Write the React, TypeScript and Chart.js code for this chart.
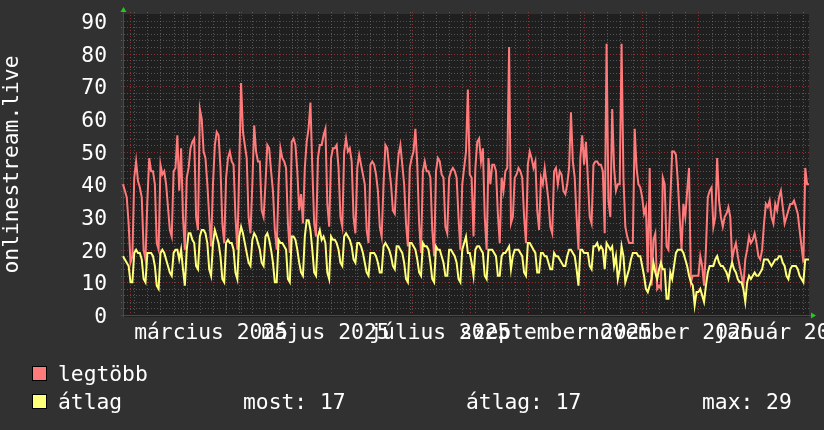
import React, { useEffect, useRef } from 'react';
import { Chart, registerables } from 'chart.js';

Chart.register(...registerables);

// ---- data -------------------------------------------------------------
const START_DATE = '2025-01-28';

// daily "legtöbb" (max) values, one per day from START_DATE
const MAX_VALUES = [
  40, 38, 36, 28, 16, 18,
  42, 47, 41, 39, 36, 20, 17,
  35, 48, 44, 44, 40, 22, 20,
  46, 43, 44, 40, 33, 26, 24,
  44, 45, 55, 38, 51, 30, 20,
  42, 45, 51, 53, 54, 30, 26,
  63, 60, 50, 48, 40, 30, 21,
  40, 52, 56, 55, 45, 28, 22,
  42, 48, 50, 47, 46, 30, 20,
  45, 71, 56, 52, 48, 30, 25,
  40, 58, 50, 47, 47, 32, 30,
  40, 52, 51, 44, 38, 26, 20,
  40, 51, 48, 47, 45, 28, 19,
  53, 54, 52, 44, 32, 37, 28,
  45, 53, 57, 65, 45, 28, 24,
  48, 52, 52, 55, 57, 34, 27,
  48, 51, 51, 52, 45, 30, 27,
  50, 54, 50, 51, 47, 30, 25,
  45, 49, 46, 43, 40, 26, 22,
  46, 47, 46, 43, 38, 27, 24,
  40, 52, 51, 45, 40, 32, 31,
  42, 49, 52, 46, 40, 28, 21,
  45, 48, 50, 57, 46, 28, 19,
  44, 47, 44, 44, 42, 26, 18,
  44, 48, 47, 43, 42, 27, 25,
  42, 44, 45, 44, 42, 30, 20,
  40, 45, 50, 69, 43, 42, 24,
  45, 53, 54, 47, 51, 30, 20,
  48, 40, 46, 46, 44, 31, 22,
  42, 38, 44, 45, 82, 28, 30,
  42, 43, 45, 44, 42, 30, 22,
  46, 50, 48, 45, 47, 32, 26,
  42, 40, 45, 40, 35, 27, 25,
  44, 45, 40, 44, 43, 38, 37,
  40, 45, 62, 47, 42, 30, 20,
  48, 55, 46, 53, 42, 30, 28,
  46, 47, 47, 46, 46, 44, 25,
  83, 35, 30, 63, 45, 38, 40,
  40, 83, 42, 27, 24, 22, 22,
  22, 57, 45, 40, 39, 36, 31,
  33, 13, 45, 9, 23, 25, 8,
  9, 8, 42, 40, 21, 20, 35,
  50, 50, 49, 41, 30, 20, 34,
  30, 38, 45, 10, 12, 12, 12,
  12, 18, 15, 9, 20, 36, 38,
  39, 27, 30, 48, 35, 30, 27,
  30, 31, 33, 30, 17, 20, 22,
  18, 15, 12, 9, 17, 20, 24,
  22, 23, 25, 22, 18, 17, 20,
  28, 34, 33, 35, 30, 28, 34,
  32, 36, 38, 33, 28, 30, 32,
  34, 34, 35, 33, 31, 26, 21,
  16, 45, 40, 40,
];

// daily "átlag" (average) values
const AVG_VALUES = [
  18, 17, 16, 15, 10, 10,
  19, 20, 19, 19, 17, 11, 10,
  19, 19, 19, 18, 15, 9, 8,
  19, 20, 19, 17, 15, 13, 12,
  19, 20, 20, 17, 20, 14, 9,
  20, 25, 25, 23, 22, 15, 14,
  24, 26, 26, 25, 22, 14, 12,
  22, 26, 24, 22, 18, 11, 10,
  22, 23, 22, 22, 20, 13, 11,
  24, 27, 25, 22, 19, 16, 15,
  23, 25, 24, 22, 20, 16, 15,
  24, 25, 23, 20, 16, 10, 10,
  23, 22, 22, 21, 20, 11, 10,
  24, 24, 23, 20, 16, 13, 12,
  24, 29, 29, 26, 20, 13, 12,
  24, 26, 23, 24, 22, 13, 11,
  24, 23, 23, 22, 20, 16, 15,
  24, 25, 24, 23, 21, 17, 16,
  22, 22, 21, 19, 16, 13, 12,
  19, 19, 19, 18, 16, 13, 13,
  21, 22, 21, 20, 18, 15, 14,
  21, 21, 20, 19, 16, 11, 10,
  22, 22, 21, 20, 17, 13, 12,
  22, 21, 21, 20, 16, 11, 10,
  21, 20, 20, 18, 16, 12, 12,
  20, 20, 19, 18, 16, 11, 10,
  20, 22, 24, 19, 19, 16, 12,
  20, 21, 21, 20, 19, 12, 11,
  20, 20, 20, 19, 18, 12, 12,
  18, 19, 19, 20, 21, 14, 18,
  20, 20, 20, 19, 18, 13, 12,
  22, 22, 21, 20, 19, 13, 13,
  19, 19, 18, 18, 16, 14, 14,
  19, 18, 18, 17, 16, 15, 15,
  18, 20, 20, 19, 18, 14, 9,
  20, 20, 19, 19, 19, 15, 14,
  21, 21, 22, 20, 21, 20, 14,
  22, 21, 20, 21, 15, 18, 11,
  14, 21, 18, 10, 12, 14, 17,
  19, 19, 19, 18, 18, 15, 12,
  8, 7, 9, 11, 16, 13, 11,
  14, 16, 14, 14, 5, 5, 13,
  11, 15, 19, 20, 20, 20, 19,
  17, 15, 12, 10, 9, 3, 7,
  7, 8, 6, 4, 9, 13, 15,
  15, 15, 17, 18, 16, 15, 15,
  14, 13, 11, 14, 16, 14, 13,
  11, 10, 10, 8, 4, 10, 12,
  11, 12, 13, 12, 12, 13, 14,
  17, 17, 17, 16, 15, 16, 17,
  17, 18, 18, 16, 15, 12, 11,
  14, 15, 15, 15, 14, 12, 11,
  10, 17, 17, 17,
];

const X_TICK_MONTHS = ['2025-03', '2025-05', '2025-07', '2025-09', '2025-11', '2026-01'];
const X_TICK_LABELS = ['március 2025', 'május 2025', 'július 2025', 'szeptember 2025', 'november 2025', 'január 2026'];
const Y_TICKS = [0, 10, 20, 30, 40, 50, 60, 70, 80, 90];
const Y_MIN = 0;
const Y_MAX = 92.1;
const Y_TITLE = 'onlinestream.live';
const SERIES_NAMES = ['legtöbb', 'átlag'];
const STAT_TEXTS = ['most: 17', 'átlag: 17', 'max: 29'];

// ---- styling ----------------------------------------------------------
const W = 824;
const H = 430;
const FONT = '"DejaVu Sans Mono", monospace';
const FS = 21.3;
const TEXT = '#ffffff';
const OUTER_BG = '#313131';
const PLOT_BG = '#1f1f1f';
const RED = '#ff7b7b';
const YELLOW = '#ffff7a';
const MINOR_GRID = 'rgba(140,140,140,0.5)';
const MAJOR_GRID = 'rgba(175,55,55,0.75)';
const AXIS = '#4a4a4a';
const ARROW = '#1ecb1e';

function buildDates(start: string, n: number): string[] {
  const t0 = Date.parse(start + 'T00:00:00Z');
  const out: string[] = [];
  for (let i = 0; i < n; i++) out.push(new Date(t0 + i * 86400000).toISOString().slice(0, 10));
  return out;
}

const DATES = buildDates(START_DATE, MAX_VALUES.length);
// rrdtool centres a month label half a month after the month start
const LABEL_POS = X_TICK_MONTHS.map((m) => DATES.indexOf(m + '-01') + 15);

const backgroundPlugin = {
  id: 'rrdBackground',
  beforeDraw(chart: any) {
    const { ctx, chartArea: a } = chart;
    ctx.save();
    ctx.fillStyle = OUTER_BG;
    ctx.fillRect(0, 0, W, H);
    ctx.fillStyle = PLOT_BG;
    ctx.fillRect(a.left, a.top, a.right - a.left, a.bottom - a.top + 2);
    ctx.restore();
  },
  beforeDatasetsDraw(chart: any) {
    const { ctx, chartArea: a, scales } = chart;
    const xs = scales.x;
    const ys = scales.y;
    ctx.save();
    ctx.lineWidth = 1;
    ctx.setLineDash([1, 2]);
    // horizontal grid
    for (let v = 2; v <= 90; v += 2) {
      const y = Math.round(ys.getPixelForValue(v)) + 0.5;
      ctx.strokeStyle = v % 10 === 0 ? MAJOR_GRID : MINOR_GRID;
      ctx.beginPath();
      ctx.moveTo(a.left - 2, y);
      ctx.lineTo(a.right + 2, y);
      ctx.stroke();
    }
    // vertical grid: weeks (Mondays) and month starts
    DATES.forEach((d, i) => {
      const isMonth = d.endsWith('-01');
      const isMonday = new Date(d + 'T00:00:00Z').getUTCDay() === 1;
      if (!isMonth && !isMonday) return;
      const x = Math.round(xs.getPixelForValue(i)) + 0.5;
      ctx.strokeStyle = isMonth ? MAJOR_GRID : MINOR_GRID;
      ctx.beginPath();
      ctx.moveTo(x, a.top - 2);
      ctx.lineTo(x, a.bottom + 2);
      ctx.stroke();
    });
    ctx.setLineDash([]);
    // axes
    ctx.strokeStyle = AXIS;
    const y0 = Math.round(ys.getPixelForValue(0)) + 0.5;
    ctx.beginPath();
    ctx.moveTo(a.left - 2, y0);
    ctx.lineTo(a.right + 3, y0);
    ctx.stroke();
    const x0 = Math.round(a.left) + 0.5;
    ctx.beginPath();
    ctx.moveTo(x0, a.bottom + 2);
    ctx.lineTo(x0, a.top - 3);
    ctx.stroke();
    // arrows
    ctx.fillStyle = ARROW;
    ctx.beginPath();
    ctx.moveTo(x0 - 3, a.top - 2);
    ctx.lineTo(x0 + 3, a.top - 2);
    ctx.lineTo(x0, a.top - 7);
    ctx.closePath();
    ctx.fill();
    ctx.beginPath();
    ctx.moveTo(a.right + 2, y0 - 3);
    ctx.lineTo(a.right + 2, y0 + 3);
    ctx.lineTo(a.right + 7, y0);
    ctx.closePath();
    ctx.fill();
    ctx.restore();
  },
  afterDraw(chart: any) {
    const { ctx } = chart;
    ctx.save();
    ctx.font = `${FS}px ${FONT}`;
    ctx.textBaseline = 'alphabetic';
    ctx.textAlign = 'left';
    const rows = [
      { color: RED, y: 366, base: 380.5, name: SERIES_NAMES[0] },
      { color: YELLOW, y: 394, base: 408.5, name: SERIES_NAMES[1] },
    ];
    rows.forEach((r) => {
      ctx.fillStyle = r.color;
      ctx.fillRect(32, r.y, 15, 15);
      ctx.strokeStyle = '#000';
      ctx.lineWidth = 1;
      ctx.strokeRect(32.5, r.y + 0.5, 14, 14);
      ctx.fillStyle = TEXT;
      ctx.fillText(r.name, 58, r.base);
    });
    ctx.fillText(STAT_TEXTS[0], 243, 408.5);
    ctx.fillText(STAT_TEXTS[1], 466, 408.5);
    ctx.fillText(STAT_TEXTS[2], 702, 408.5);
    ctx.restore();
  },
};

export default function App() {
  const ref = useRef<HTMLCanvasElement | null>(null);
  useEffect(() => {
    if (!ref.current) return;
    const chart = new Chart(ref.current, {
      type: 'line',
      data: {
        labels: DATES,
        datasets: [
          {
            label: SERIES_NAMES[0],
            data: MAX_VALUES,
            borderColor: RED,
            borderWidth: 2,
            pointRadius: 0,
            tension: 0,
            fill: false,
            order: 2,
          },
          {
            label: SERIES_NAMES[1],
            data: AVG_VALUES,
            borderColor: YELLOW,
            borderWidth: 2,
            pointRadius: 0,
            tension: 0,
            fill: false,
            order: 1,
          },
        ],
      },
      options: {
        animation: false,
        responsive: false,
        devicePixelRatio: 1,
        layout: { padding: { left: 0, top: 14, right: 15, bottom: 85 } },
        plugins: { legend: { display: false }, tooltip: { enabled: false } },
        scales: {
          x: {
            type: 'category',
            offset: false,
            grid: { display: false, drawTicks: false },
            border: { display: false },
            ticks: {
              autoSkip: false,
              maxRotation: 0,
              minRotation: 0,
              padding: 6,
              color: TEXT,
              font: { family: FONT, size: FS },
              callback: (_v: any, i: number) => X_TICK_LABELS[i],
            },
            afterBuildTicks: (s: any) => {
              s.ticks = LABEL_POS.map((v) => ({ value: v }));
            },
            afterFit: (s: any) => {
              s.height = 30;
              s.paddingLeft = 0;
              s.paddingRight = 0;
            },
          },
          y: {
            type: 'linear',
            min: Y_MIN,
            max: Y_MAX,
            grid: { display: false, drawTicks: false },
            border: { display: false },
            ticks: {
              autoSkip: false,
              padding: 16,
              labelOffset: 2.5,
              color: TEXT,
              font: { family: FONT, size: FS },
              callback: (v: any) => String(v),
            },
            afterBuildTicks: (s: any) => {
              s.ticks = Y_TICKS.map((v) => ({ value: v }));
            },
            title: {
              display: true,
              text: Y_TITLE,
              color: TEXT,
              font: { family: FONT, size: FS },
              padding: { top: 0, bottom: 0 },
            },
            afterFit: (s: any) => {
              s.width = 123;
              s.paddingTop = 0;
              s.paddingBottom = 0;
            },
          },
        },
      },
      plugins: [backgroundPlugin],
    });
    return () => chart.destroy();
  }, []);
  return (
    <div style={{ position: 'absolute', left: 0, top: 0, width: W, height: H, background: OUTER_BG }}>
      <canvas ref={ref} width={W} height={H} style={{ display: 'block', width: W, height: H }} />
    </div>
  );
}
